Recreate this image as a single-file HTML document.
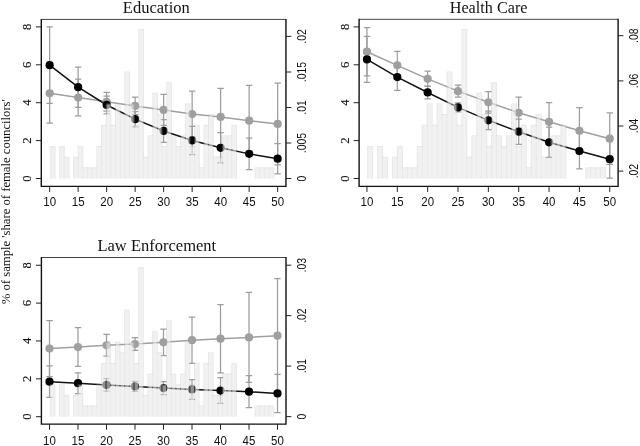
<!DOCTYPE html><html><head><meta charset="utf-8"><style>html,body{margin:0;padding:0;background:#fff}svg{display:block;filter:grayscale(1)}text{fill:#111}</style></head><body>
<svg width="640" height="446" viewBox="0 0 640 446">
<rect width="640" height="446" fill="#fff"/>
<g opacity="0.999">
<path d="M49.65 63.28V123.17M46.45 63.28h6.4M46.45 123.17h6.4" stroke="#9d9d9d" stroke-width="1.25" fill="none"/>
<path d="M78.15 79.20V115.97M74.95 79.20h6.4M74.95 115.97h6.4" stroke="#9d9d9d" stroke-width="1.25" fill="none"/>
<path d="M106.65 92.28V111.23M103.45 92.28h6.4M103.45 111.23h6.4" stroke="#9d9d9d" stroke-width="1.25" fill="none"/>
<path d="M135.15 97.20V114.64M131.95 97.20h6.4M131.95 114.64h6.4" stroke="#9d9d9d" stroke-width="1.25" fill="none"/>
<path d="M163.65 94.36V125.44M160.45 94.36h6.4M160.45 125.44h6.4" stroke="#9d9d9d" stroke-width="1.25" fill="none"/>
<path d="M192.15 91.14V137.00M188.95 91.14h6.4M188.95 137.00h6.4" stroke="#9d9d9d" stroke-width="1.25" fill="none"/>
<path d="M220.65 88.30V145.53M217.45 88.30h6.4M217.45 145.53h6.4" stroke="#9d9d9d" stroke-width="1.25" fill="none"/>
<path d="M249.15 85.27V156.14M245.95 85.27h6.4M245.95 156.14h6.4" stroke="#9d9d9d" stroke-width="1.25" fill="none"/>
<path d="M277.65 83.09V164.76M274.45 83.09h6.4M274.45 164.76h6.4" stroke="#9d9d9d" stroke-width="1.25" fill="none"/>
<path d="M49.65 26.90V103.46M46.45 26.90h6.4M46.45 103.46h6.4" stroke="#9d9d9d" stroke-width="1.25" fill="none"/>
<path d="M78.15 67.07V107.25M74.95 67.07h6.4M74.95 107.25h6.4" stroke="#9d9d9d" stroke-width="1.25" fill="none"/>
<path d="M106.65 96.07V113.88M103.45 96.07h6.4M103.45 113.88h6.4" stroke="#9d9d9d" stroke-width="1.25" fill="none"/>
<path d="M135.15 111.61V126.77M131.95 111.61h6.4M131.95 126.77h6.4" stroke="#9d9d9d" stroke-width="1.25" fill="none"/>
<path d="M163.65 119.57V142.31M160.45 119.57h6.4M160.45 142.31h6.4" stroke="#9d9d9d" stroke-width="1.25" fill="none"/>
<path d="M192.15 126.29V154.53M188.95 126.29h6.4M188.95 154.53h6.4" stroke="#9d9d9d" stroke-width="1.25" fill="none"/>
<path d="M220.65 132.64V162.96M217.45 132.64h6.4M217.45 162.96h6.4" stroke="#9d9d9d" stroke-width="1.25" fill="none"/>
<path d="M249.15 138.14V169.59M245.95 138.14h6.4M245.95 169.59h6.4" stroke="#9d9d9d" stroke-width="1.25" fill="none"/>
<path d="M277.65 143.54V173.86M274.45 143.54h6.4M274.45 173.86h6.4" stroke="#9d9d9d" stroke-width="1.25" fill="none"/>
<polyline points="49.65,93.23 78.15,97.58 106.65,101.75 135.15,105.92 163.65,109.90 192.15,114.07 220.65,116.91 249.15,120.70 277.65,123.92" stroke="#9f9f9f" stroke-width="1.5" fill="none"/>
<polyline points="49.65,65.18 78.15,87.16 106.65,104.97 135.15,119.19 163.65,130.94 192.15,140.41 220.65,147.80 249.15,153.87 277.65,158.70" stroke="#111" stroke-width="1.5" fill="none"/>
<circle cx="49.65" cy="93.23" r="4.1" fill="#9f9f9f"/>
<circle cx="78.15" cy="97.58" r="4.1" fill="#9f9f9f"/>
<circle cx="106.65" cy="101.75" r="4.1" fill="#9f9f9f"/>
<circle cx="135.15" cy="105.92" r="4.1" fill="#9f9f9f"/>
<circle cx="163.65" cy="109.90" r="4.1" fill="#9f9f9f"/>
<circle cx="192.15" cy="114.07" r="4.1" fill="#9f9f9f"/>
<circle cx="220.65" cy="116.91" r="4.1" fill="#9f9f9f"/>
<circle cx="249.15" cy="120.70" r="4.1" fill="#9f9f9f"/>
<circle cx="277.65" cy="123.92" r="4.1" fill="#9f9f9f"/>
<circle cx="49.65" cy="65.18" r="4.1" fill="#000"/>
<circle cx="78.15" cy="87.16" r="4.1" fill="#000"/>
<circle cx="106.65" cy="104.97" r="4.1" fill="#000"/>
<circle cx="135.15" cy="119.19" r="4.1" fill="#000"/>
<circle cx="163.65" cy="130.94" r="4.1" fill="#000"/>
<circle cx="192.15" cy="140.41" r="4.1" fill="#000"/>
<circle cx="220.65" cy="147.80" r="4.1" fill="#000"/>
<circle cx="249.15" cy="153.87" r="4.1" fill="#000"/>
<circle cx="277.65" cy="158.70" r="4.1" fill="#000"/>
<rect x="50.83" y="147.05" width="3.66" height="31.45" fill="rgba(233,233,233,0.62)"/>
<rect x="60.14" y="147.05" width="3.66" height="31.45" fill="rgba(233,233,233,0.62)"/>
<rect x="64.80" y="157.70" width="3.66" height="20.80" fill="rgba(233,233,233,0.62)"/>
<rect x="74.11" y="157.70" width="3.66" height="20.80" fill="rgba(233,233,233,0.62)"/>
<rect x="78.77" y="147.05" width="3.66" height="31.45" fill="rgba(233,233,233,0.62)"/>
<rect x="83.42" y="168.35" width="3.66" height="10.15" fill="rgba(233,233,233,0.62)"/>
<rect x="88.08" y="168.35" width="3.66" height="10.15" fill="rgba(233,233,233,0.62)"/>
<rect x="92.73" y="168.35" width="3.66" height="10.15" fill="rgba(233,233,233,0.62)"/>
<rect x="97.39" y="147.05" width="3.66" height="31.45" fill="rgba(233,233,233,0.62)"/>
<rect x="102.04" y="125.75" width="3.66" height="52.75" fill="rgba(233,233,233,0.62)"/>
<rect x="106.70" y="104.45" width="3.66" height="74.05" fill="rgba(233,233,233,0.62)"/>
<rect x="111.35" y="125.75" width="3.66" height="52.75" fill="rgba(233,233,233,0.62)"/>
<rect x="116.01" y="104.45" width="3.66" height="74.05" fill="rgba(233,233,233,0.62)"/>
<rect x="120.66" y="115.10" width="3.66" height="63.40" fill="rgba(233,233,233,0.62)"/>
<rect x="125.32" y="72.50" width="3.66" height="106.00" fill="rgba(233,233,233,0.62)"/>
<rect x="129.97" y="104.45" width="3.66" height="74.05" fill="rgba(233,233,233,0.62)"/>
<rect x="134.63" y="125.75" width="3.66" height="52.75" fill="rgba(233,233,233,0.62)"/>
<rect x="139.28" y="29.90" width="3.66" height="148.60" fill="rgba(233,233,233,0.62)"/>
<rect x="143.94" y="157.70" width="3.66" height="20.80" fill="rgba(233,233,233,0.62)"/>
<rect x="148.59" y="136.40" width="3.66" height="42.10" fill="rgba(233,233,233,0.62)"/>
<rect x="153.25" y="93.80" width="3.66" height="84.70" fill="rgba(233,233,233,0.62)"/>
<rect x="157.90" y="115.10" width="3.66" height="63.40" fill="rgba(233,233,233,0.62)"/>
<rect x="162.56" y="147.05" width="3.66" height="31.45" fill="rgba(233,233,233,0.62)"/>
<rect x="167.21" y="83.15" width="3.66" height="95.35" fill="rgba(233,233,233,0.62)"/>
<rect x="171.87" y="136.40" width="3.66" height="42.10" fill="rgba(233,233,233,0.62)"/>
<rect x="176.52" y="147.05" width="3.66" height="31.45" fill="rgba(233,233,233,0.62)"/>
<rect x="181.18" y="136.40" width="3.66" height="42.10" fill="rgba(233,233,233,0.62)"/>
<rect x="185.83" y="104.45" width="3.66" height="74.05" fill="rgba(233,233,233,0.62)"/>
<rect x="190.49" y="147.05" width="3.66" height="31.45" fill="rgba(233,233,233,0.62)"/>
<rect x="195.14" y="125.75" width="3.66" height="52.75" fill="rgba(233,233,233,0.62)"/>
<rect x="199.80" y="168.35" width="3.66" height="10.15" fill="rgba(233,233,233,0.62)"/>
<rect x="204.46" y="125.75" width="3.66" height="52.75" fill="rgba(233,233,233,0.62)"/>
<rect x="209.11" y="115.10" width="3.66" height="63.40" fill="rgba(233,233,233,0.62)"/>
<rect x="213.77" y="157.70" width="3.66" height="20.80" fill="rgba(233,233,233,0.62)"/>
<rect x="218.42" y="157.70" width="3.66" height="20.80" fill="rgba(233,233,233,0.62)"/>
<rect x="223.08" y="136.40" width="3.66" height="42.10" fill="rgba(233,233,233,0.62)"/>
<rect x="227.73" y="136.40" width="3.66" height="42.10" fill="rgba(233,233,233,0.62)"/>
<rect x="232.39" y="125.75" width="3.66" height="52.75" fill="rgba(233,233,233,0.62)"/>
<rect x="255.66" y="168.35" width="3.66" height="10.15" fill="rgba(233,233,233,0.62)"/>
<rect x="260.32" y="168.35" width="3.66" height="10.15" fill="rgba(233,233,233,0.62)"/>
<rect x="264.97" y="168.35" width="3.66" height="10.15" fill="rgba(233,233,233,0.62)"/>
<rect x="269.63" y="168.35" width="3.66" height="10.15" fill="rgba(233,233,233,0.62)"/>
<path d="M49.83 146.55h5.66M59.14 146.55h5.66M63.80 157.20h5.66M73.11 157.20h5.66M77.77 146.55h5.66M82.42 167.85h5.66M87.08 167.85h5.66M91.73 167.85h5.66M96.39 146.55h5.66M101.04 125.25h5.66M105.70 103.95h5.66M110.35 125.25h5.66M115.01 103.95h5.66M119.66 114.60h5.66M124.32 72.00h5.66M128.97 103.95h5.66M133.63 125.25h5.66M138.28 29.40h5.66M142.94 157.20h5.66M147.59 135.90h5.66M152.25 93.30h5.66M156.90 114.60h5.66M161.56 146.55h5.66M166.21 82.65h5.66M170.87 135.90h5.66M175.52 146.55h5.66M180.18 135.90h5.66M184.83 103.95h5.66M189.49 146.55h5.66M194.14 125.25h5.66M198.80 167.85h5.66M203.46 125.25h5.66M208.11 114.60h5.66M212.77 157.20h5.66M217.42 157.20h5.66M222.08 135.90h5.66M226.73 135.90h5.66M231.39 125.25h5.66M254.66 167.85h5.66M259.32 167.85h5.66M263.97 167.85h5.66M268.63 167.85h5.66M50.33 178.50v-31.45M54.99 178.50v-31.45M59.64 178.50v-31.45M64.30 178.50v-31.45M68.95 178.50v-20.80M73.61 178.50v-20.80M78.27 178.50v-31.45M82.92 178.50v-31.45M87.58 178.50v-10.15M92.23 178.50v-10.15M96.89 178.50v-31.45M101.54 178.50v-52.75M106.20 178.50v-74.05M110.85 178.50v-74.05M115.51 178.50v-74.05M120.16 178.50v-74.05M124.82 178.50v-106.00M129.47 178.50v-106.00M134.13 178.50v-74.05M138.78 178.50v-148.60M143.44 178.50v-148.60M148.09 178.50v-42.10M152.75 178.50v-84.70M157.40 178.50v-84.70M162.06 178.50v-63.40M166.71 178.50v-95.35M171.37 178.50v-95.35M176.02 178.50v-42.10M180.68 178.50v-42.10M185.33 178.50v-74.05M189.99 178.50v-74.05M194.64 178.50v-52.75M199.30 178.50v-52.75M203.96 178.50v-52.75M208.61 178.50v-63.40M213.27 178.50v-63.40M217.92 178.50v-20.80M222.58 178.50v-42.10M227.23 178.50v-42.10M231.89 178.50v-52.75M236.54 178.50v-52.75M255.16 178.50v-10.15M259.82 178.50v-10.15M264.47 178.50v-10.15M269.13 178.50v-10.15M273.78 178.50v-10.15" fill="none" stroke="rgba(185,185,185,0.32)" stroke-width="1.0"/>
<path d="M41.3 19.4H285.95" stroke="#444" stroke-width="1" fill="none"/>
<path d="M41.3 18.9V186.35H285.95V18.9" stroke="#111" stroke-width="1.4" fill="none"/>
<path d="M49.65 186.35v5.6" stroke="#222" stroke-width="1"/>
<text transform="translate(49.65 205.90) scale(0.92 1)" text-anchor="middle" font-family="Liberation Sans, sans-serif" font-size="12.5">10</text>
<path d="M78.15 186.35v5.6" stroke="#222" stroke-width="1"/>
<text transform="translate(78.15 205.90) scale(0.92 1)" text-anchor="middle" font-family="Liberation Sans, sans-serif" font-size="12.5">15</text>
<path d="M106.65 186.35v5.6" stroke="#222" stroke-width="1"/>
<text transform="translate(106.65 205.90) scale(0.92 1)" text-anchor="middle" font-family="Liberation Sans, sans-serif" font-size="12.5">20</text>
<path d="M135.15 186.35v5.6" stroke="#222" stroke-width="1"/>
<text transform="translate(135.15 205.90) scale(0.92 1)" text-anchor="middle" font-family="Liberation Sans, sans-serif" font-size="12.5">25</text>
<path d="M163.65 186.35v5.6" stroke="#222" stroke-width="1"/>
<text transform="translate(163.65 205.90) scale(0.92 1)" text-anchor="middle" font-family="Liberation Sans, sans-serif" font-size="12.5">30</text>
<path d="M192.15 186.35v5.6" stroke="#222" stroke-width="1"/>
<text transform="translate(192.15 205.90) scale(0.92 1)" text-anchor="middle" font-family="Liberation Sans, sans-serif" font-size="12.5">35</text>
<path d="M220.65 186.35v5.6" stroke="#222" stroke-width="1"/>
<text transform="translate(220.65 205.90) scale(0.92 1)" text-anchor="middle" font-family="Liberation Sans, sans-serif" font-size="12.5">40</text>
<path d="M249.15 186.35v5.6" stroke="#222" stroke-width="1"/>
<text transform="translate(249.15 205.90) scale(0.92 1)" text-anchor="middle" font-family="Liberation Sans, sans-serif" font-size="12.5">45</text>
<path d="M277.65 186.35v5.6" stroke="#222" stroke-width="1"/>
<text transform="translate(277.65 205.90) scale(0.92 1)" text-anchor="middle" font-family="Liberation Sans, sans-serif" font-size="12.5">50</text>
<path d="M41.3 178.50h-5.4" stroke="#222" stroke-width="1"/>
<text transform="translate(30.90 178.50) rotate(-90)" text-anchor="middle" font-family="Liberation Serif, serif" font-size="12.6" stroke="#111" stroke-width="0.12">0</text>
<path d="M41.3 140.60h-5.4" stroke="#222" stroke-width="1"/>
<text transform="translate(30.90 140.60) rotate(-90)" text-anchor="middle" font-family="Liberation Serif, serif" font-size="12.6" stroke="#111" stroke-width="0.12">2</text>
<path d="M41.3 102.70h-5.4" stroke="#222" stroke-width="1"/>
<text transform="translate(30.90 102.70) rotate(-90)" text-anchor="middle" font-family="Liberation Serif, serif" font-size="12.6" stroke="#111" stroke-width="0.12">4</text>
<path d="M41.3 64.80h-5.4" stroke="#222" stroke-width="1"/>
<text transform="translate(30.90 64.80) rotate(-90)" text-anchor="middle" font-family="Liberation Serif, serif" font-size="12.6" stroke="#111" stroke-width="0.12">6</text>
<path d="M41.3 26.90h-5.4" stroke="#222" stroke-width="1"/>
<text transform="translate(30.90 26.90) rotate(-90)" text-anchor="middle" font-family="Liberation Serif, serif" font-size="12.6" stroke="#111" stroke-width="0.12">8</text>
<path d="M285.95 178.50h5.3" stroke="#222" stroke-width="1"/>
<text transform="translate(305.55 178.50) rotate(-90) scale(0.87 1)" text-anchor="middle" font-family="Liberation Sans, sans-serif" font-size="12">0</text>
<path d="M285.95 143.00h5.3" stroke="#222" stroke-width="1"/>
<text transform="translate(305.55 143.00) rotate(-90) scale(0.87 1)" text-anchor="middle" font-family="Liberation Sans, sans-serif" font-size="12">.005</text>
<path d="M285.95 107.50h5.3" stroke="#222" stroke-width="1"/>
<text transform="translate(305.55 107.50) rotate(-90) scale(0.87 1)" text-anchor="middle" font-family="Liberation Sans, sans-serif" font-size="12">.01</text>
<path d="M285.95 72.00h5.3" stroke="#222" stroke-width="1"/>
<text transform="translate(305.55 72.00) rotate(-90) scale(0.87 1)" text-anchor="middle" font-family="Liberation Sans, sans-serif" font-size="12">.015</text>
<path d="M285.95 36.40h5.3" stroke="#222" stroke-width="1"/>
<text transform="translate(305.55 36.40) rotate(-90) scale(0.87 1)" text-anchor="middle" font-family="Liberation Sans, sans-serif" font-size="12">.02</text>
<text x="156.3" y="13.2" text-anchor="middle" font-family="Liberation Serif, serif" font-size="16.5">Education</text>
</g>
<g opacity="0.999">
<path d="M366.95 27.66V75.79M363.75 27.66h6.4M363.75 75.79h6.4" stroke="#9d9d9d" stroke-width="1.25" fill="none"/>
<path d="M397.30 51.35V79.39M394.10 51.35h6.4M394.10 79.39h6.4" stroke="#9d9d9d" stroke-width="1.25" fill="none"/>
<path d="M427.65 71.24V86.40M424.45 71.24h6.4M424.45 86.40h6.4" stroke="#9d9d9d" stroke-width="1.25" fill="none"/>
<path d="M458.00 85.08V97.20M454.80 85.08h6.4M454.80 97.20h6.4" stroke="#9d9d9d" stroke-width="1.25" fill="none"/>
<path d="M488.35 91.52V113.12M485.15 91.52h6.4M485.15 113.12h6.4" stroke="#9d9d9d" stroke-width="1.25" fill="none"/>
<path d="M518.70 97.02V128.47M515.50 97.02h6.4M515.50 128.47h6.4" stroke="#9d9d9d" stroke-width="1.25" fill="none"/>
<path d="M549.05 102.70V140.98M545.85 102.70h6.4M545.85 140.98h6.4" stroke="#9d9d9d" stroke-width="1.25" fill="none"/>
<path d="M579.40 107.63V153.87M576.20 107.63h6.4M576.20 153.87h6.4" stroke="#9d9d9d" stroke-width="1.25" fill="none"/>
<path d="M609.75 112.93V164.48M606.55 112.93h6.4M606.55 164.48h6.4" stroke="#9d9d9d" stroke-width="1.25" fill="none"/>
<path d="M366.95 36.47V82.33M363.75 36.47h6.4M363.75 82.33h6.4" stroke="#9d9d9d" stroke-width="1.25" fill="none"/>
<path d="M397.30 63.85V90.38M394.10 63.85h6.4M394.10 90.38h6.4" stroke="#9d9d9d" stroke-width="1.25" fill="none"/>
<path d="M427.65 86.02V98.91M424.45 86.02h6.4M424.45 98.91h6.4" stroke="#9d9d9d" stroke-width="1.25" fill="none"/>
<path d="M458.00 102.89V111.99M454.80 102.89h6.4M454.80 111.99h6.4" stroke="#9d9d9d" stroke-width="1.25" fill="none"/>
<path d="M488.35 111.04V129.61M485.15 111.04h6.4M485.15 129.61h6.4" stroke="#9d9d9d" stroke-width="1.25" fill="none"/>
<path d="M518.70 119.00V144.39M515.50 119.00h6.4M515.50 144.39h6.4" stroke="#9d9d9d" stroke-width="1.25" fill="none"/>
<path d="M549.05 127.15V157.47M545.85 127.15h6.4M545.85 157.47h6.4" stroke="#9d9d9d" stroke-width="1.25" fill="none"/>
<path d="M579.40 133.21V168.84M576.20 133.21h6.4M576.20 168.84h6.4" stroke="#9d9d9d" stroke-width="1.25" fill="none"/>
<path d="M609.75 140.22V178.12M606.55 140.22h6.4M606.55 178.12h6.4" stroke="#9d9d9d" stroke-width="1.25" fill="none"/>
<polyline points="366.95,51.72 397.30,65.37 427.65,78.82 458.00,91.14 488.35,102.32 518.70,112.74 549.05,121.84 579.40,130.75 609.75,138.70" stroke="#9f9f9f" stroke-width="1.5" fill="none"/>
<polyline points="366.95,59.40 397.30,77.12 427.65,92.47 458.00,107.44 488.35,120.32 518.70,131.69 549.05,142.31 579.40,151.02 609.75,159.17" stroke="#111" stroke-width="1.5" fill="none"/>
<circle cx="366.95" cy="51.72" r="4.1" fill="#9f9f9f"/>
<circle cx="397.30" cy="65.37" r="4.1" fill="#9f9f9f"/>
<circle cx="427.65" cy="78.82" r="4.1" fill="#9f9f9f"/>
<circle cx="458.00" cy="91.14" r="4.1" fill="#9f9f9f"/>
<circle cx="488.35" cy="102.32" r="4.1" fill="#9f9f9f"/>
<circle cx="518.70" cy="112.74" r="4.1" fill="#9f9f9f"/>
<circle cx="549.05" cy="121.84" r="4.1" fill="#9f9f9f"/>
<circle cx="579.40" cy="130.75" r="4.1" fill="#9f9f9f"/>
<circle cx="609.75" cy="138.70" r="4.1" fill="#9f9f9f"/>
<circle cx="366.95" cy="59.40" r="4.1" fill="#000"/>
<circle cx="397.30" cy="77.12" r="4.1" fill="#000"/>
<circle cx="427.65" cy="92.47" r="4.1" fill="#000"/>
<circle cx="458.00" cy="107.44" r="4.1" fill="#000"/>
<circle cx="488.35" cy="120.32" r="4.1" fill="#000"/>
<circle cx="518.70" cy="131.69" r="4.1" fill="#000"/>
<circle cx="549.05" cy="142.31" r="4.1" fill="#000"/>
<circle cx="579.40" cy="151.02" r="4.1" fill="#000"/>
<circle cx="609.75" cy="159.17" r="4.1" fill="#000"/>
<rect x="368.18" y="147.05" width="3.96" height="31.45" fill="rgba(233,233,233,0.62)"/>
<rect x="378.09" y="147.05" width="3.96" height="31.45" fill="rgba(233,233,233,0.62)"/>
<rect x="383.05" y="157.70" width="3.96" height="20.80" fill="rgba(233,233,233,0.62)"/>
<rect x="392.97" y="157.70" width="3.96" height="20.80" fill="rgba(233,233,233,0.62)"/>
<rect x="397.92" y="147.05" width="3.96" height="31.45" fill="rgba(233,233,233,0.62)"/>
<rect x="402.88" y="168.35" width="3.96" height="10.15" fill="rgba(233,233,233,0.62)"/>
<rect x="407.84" y="168.35" width="3.96" height="10.15" fill="rgba(233,233,233,0.62)"/>
<rect x="412.79" y="168.35" width="3.96" height="10.15" fill="rgba(233,233,233,0.62)"/>
<rect x="417.75" y="147.05" width="3.96" height="31.45" fill="rgba(233,233,233,0.62)"/>
<rect x="422.71" y="125.75" width="3.96" height="52.75" fill="rgba(233,233,233,0.62)"/>
<rect x="427.67" y="104.45" width="3.96" height="74.05" fill="rgba(233,233,233,0.62)"/>
<rect x="432.62" y="125.75" width="3.96" height="52.75" fill="rgba(233,233,233,0.62)"/>
<rect x="437.58" y="104.45" width="3.96" height="74.05" fill="rgba(233,233,233,0.62)"/>
<rect x="442.54" y="115.10" width="3.96" height="63.40" fill="rgba(233,233,233,0.62)"/>
<rect x="447.50" y="72.50" width="3.96" height="106.00" fill="rgba(233,233,233,0.62)"/>
<rect x="452.45" y="104.45" width="3.96" height="74.05" fill="rgba(233,233,233,0.62)"/>
<rect x="457.41" y="125.75" width="3.96" height="52.75" fill="rgba(233,233,233,0.62)"/>
<rect x="462.37" y="29.90" width="3.96" height="148.60" fill="rgba(233,233,233,0.62)"/>
<rect x="467.33" y="157.70" width="3.96" height="20.80" fill="rgba(233,233,233,0.62)"/>
<rect x="472.28" y="136.40" width="3.96" height="42.10" fill="rgba(233,233,233,0.62)"/>
<rect x="477.24" y="93.80" width="3.96" height="84.70" fill="rgba(233,233,233,0.62)"/>
<rect x="482.20" y="115.10" width="3.96" height="63.40" fill="rgba(233,233,233,0.62)"/>
<rect x="487.16" y="147.05" width="3.96" height="31.45" fill="rgba(233,233,233,0.62)"/>
<rect x="492.11" y="83.15" width="3.96" height="95.35" fill="rgba(233,233,233,0.62)"/>
<rect x="497.07" y="136.40" width="3.96" height="42.10" fill="rgba(233,233,233,0.62)"/>
<rect x="502.03" y="147.05" width="3.96" height="31.45" fill="rgba(233,233,233,0.62)"/>
<rect x="506.98" y="136.40" width="3.96" height="42.10" fill="rgba(233,233,233,0.62)"/>
<rect x="511.94" y="104.45" width="3.96" height="74.05" fill="rgba(233,233,233,0.62)"/>
<rect x="516.90" y="147.05" width="3.96" height="31.45" fill="rgba(233,233,233,0.62)"/>
<rect x="521.86" y="125.75" width="3.96" height="52.75" fill="rgba(233,233,233,0.62)"/>
<rect x="526.81" y="168.35" width="3.96" height="10.15" fill="rgba(233,233,233,0.62)"/>
<rect x="531.77" y="125.75" width="3.96" height="52.75" fill="rgba(233,233,233,0.62)"/>
<rect x="536.73" y="115.10" width="3.96" height="63.40" fill="rgba(233,233,233,0.62)"/>
<rect x="541.69" y="157.70" width="3.96" height="20.80" fill="rgba(233,233,233,0.62)"/>
<rect x="546.64" y="157.70" width="3.96" height="20.80" fill="rgba(233,233,233,0.62)"/>
<rect x="551.60" y="136.40" width="3.96" height="42.10" fill="rgba(233,233,233,0.62)"/>
<rect x="556.56" y="136.40" width="3.96" height="42.10" fill="rgba(233,233,233,0.62)"/>
<rect x="561.52" y="125.75" width="3.96" height="52.75" fill="rgba(233,233,233,0.62)"/>
<rect x="586.30" y="168.35" width="3.96" height="10.15" fill="rgba(233,233,233,0.62)"/>
<rect x="591.26" y="168.35" width="3.96" height="10.15" fill="rgba(233,233,233,0.62)"/>
<rect x="596.22" y="168.35" width="3.96" height="10.15" fill="rgba(233,233,233,0.62)"/>
<rect x="601.17" y="168.35" width="3.96" height="10.15" fill="rgba(233,233,233,0.62)"/>
<path d="M367.18 146.55h5.96M377.09 146.55h5.96M382.05 157.20h5.96M391.97 157.20h5.96M396.92 146.55h5.96M401.88 167.85h5.96M406.84 167.85h5.96M411.79 167.85h5.96M416.75 146.55h5.96M421.71 125.25h5.96M426.67 103.95h5.96M431.62 125.25h5.96M436.58 103.95h5.96M441.54 114.60h5.96M446.50 72.00h5.96M451.45 103.95h5.96M456.41 125.25h5.96M461.37 29.40h5.96M466.33 157.20h5.96M471.28 135.90h5.96M476.24 93.30h5.96M481.20 114.60h5.96M486.16 146.55h5.96M491.11 82.65h5.96M496.07 135.90h5.96M501.03 146.55h5.96M505.98 135.90h5.96M510.94 103.95h5.96M515.90 146.55h5.96M520.86 125.25h5.96M525.81 167.85h5.96M530.77 125.25h5.96M535.73 114.60h5.96M540.69 157.20h5.96M545.64 157.20h5.96M550.60 135.90h5.96M555.56 135.90h5.96M560.52 125.25h5.96M585.30 167.85h5.96M590.26 167.85h5.96M595.22 167.85h5.96M600.17 167.85h5.96M367.68 178.50v-31.45M372.64 178.50v-31.45M377.59 178.50v-31.45M382.55 178.50v-31.45M387.51 178.50v-20.80M392.47 178.50v-20.80M397.42 178.50v-31.45M402.38 178.50v-31.45M407.34 178.50v-10.15M412.29 178.50v-10.15M417.25 178.50v-31.45M422.21 178.50v-52.75M427.17 178.50v-74.05M432.12 178.50v-74.05M437.08 178.50v-74.05M442.04 178.50v-74.05M447.00 178.50v-106.00M451.95 178.50v-106.00M456.91 178.50v-74.05M461.87 178.50v-148.60M466.83 178.50v-148.60M471.78 178.50v-42.10M476.74 178.50v-84.70M481.70 178.50v-84.70M486.66 178.50v-63.40M491.61 178.50v-95.35M496.57 178.50v-95.35M501.53 178.50v-42.10M506.48 178.50v-42.10M511.44 178.50v-74.05M516.40 178.50v-74.05M521.36 178.50v-52.75M526.31 178.50v-52.75M531.27 178.50v-52.75M536.23 178.50v-63.40M541.19 178.50v-63.40M546.14 178.50v-20.80M551.10 178.50v-42.10M556.06 178.50v-42.10M561.02 178.50v-52.75M565.97 178.50v-52.75M585.80 178.50v-10.15M590.76 178.50v-10.15M595.72 178.50v-10.15M600.67 178.50v-10.15M605.63 178.50v-10.15" fill="none" stroke="rgba(185,185,185,0.32)" stroke-width="1.0"/>
<path d="M359.1 19.3H618.1" stroke="#444" stroke-width="1" fill="none"/>
<path d="M359.1 18.8V186.35H618.1V18.8" stroke="#111" stroke-width="1.4" fill="none"/>
<path d="M366.95 186.35v5.6" stroke="#222" stroke-width="1"/>
<text transform="translate(366.95 205.90) scale(0.92 1)" text-anchor="middle" font-family="Liberation Sans, sans-serif" font-size="12.5">10</text>
<path d="M397.30 186.35v5.6" stroke="#222" stroke-width="1"/>
<text transform="translate(397.30 205.90) scale(0.92 1)" text-anchor="middle" font-family="Liberation Sans, sans-serif" font-size="12.5">15</text>
<path d="M427.65 186.35v5.6" stroke="#222" stroke-width="1"/>
<text transform="translate(427.65 205.90) scale(0.92 1)" text-anchor="middle" font-family="Liberation Sans, sans-serif" font-size="12.5">20</text>
<path d="M458.00 186.35v5.6" stroke="#222" stroke-width="1"/>
<text transform="translate(458.00 205.90) scale(0.92 1)" text-anchor="middle" font-family="Liberation Sans, sans-serif" font-size="12.5">25</text>
<path d="M488.35 186.35v5.6" stroke="#222" stroke-width="1"/>
<text transform="translate(488.35 205.90) scale(0.92 1)" text-anchor="middle" font-family="Liberation Sans, sans-serif" font-size="12.5">30</text>
<path d="M518.70 186.35v5.6" stroke="#222" stroke-width="1"/>
<text transform="translate(518.70 205.90) scale(0.92 1)" text-anchor="middle" font-family="Liberation Sans, sans-serif" font-size="12.5">35</text>
<path d="M549.05 186.35v5.6" stroke="#222" stroke-width="1"/>
<text transform="translate(549.05 205.90) scale(0.92 1)" text-anchor="middle" font-family="Liberation Sans, sans-serif" font-size="12.5">40</text>
<path d="M579.40 186.35v5.6" stroke="#222" stroke-width="1"/>
<text transform="translate(579.40 205.90) scale(0.92 1)" text-anchor="middle" font-family="Liberation Sans, sans-serif" font-size="12.5">45</text>
<path d="M609.75 186.35v5.6" stroke="#222" stroke-width="1"/>
<text transform="translate(609.75 205.90) scale(0.92 1)" text-anchor="middle" font-family="Liberation Sans, sans-serif" font-size="12.5">50</text>
<path d="M359.1 178.50h-5.4" stroke="#222" stroke-width="1"/>
<text transform="translate(348.70 178.50) rotate(-90)" text-anchor="middle" font-family="Liberation Serif, serif" font-size="12.6" stroke="#111" stroke-width="0.12">0</text>
<path d="M359.1 140.60h-5.4" stroke="#222" stroke-width="1"/>
<text transform="translate(348.70 140.60) rotate(-90)" text-anchor="middle" font-family="Liberation Serif, serif" font-size="12.6" stroke="#111" stroke-width="0.12">2</text>
<path d="M359.1 102.70h-5.4" stroke="#222" stroke-width="1"/>
<text transform="translate(348.70 102.70) rotate(-90)" text-anchor="middle" font-family="Liberation Serif, serif" font-size="12.6" stroke="#111" stroke-width="0.12">4</text>
<path d="M359.1 64.80h-5.4" stroke="#222" stroke-width="1"/>
<text transform="translate(348.70 64.80) rotate(-90)" text-anchor="middle" font-family="Liberation Serif, serif" font-size="12.6" stroke="#111" stroke-width="0.12">6</text>
<path d="M359.1 26.90h-5.4" stroke="#222" stroke-width="1"/>
<text transform="translate(348.70 26.90) rotate(-90)" text-anchor="middle" font-family="Liberation Serif, serif" font-size="12.6" stroke="#111" stroke-width="0.12">8</text>
<path d="M618.1 171.10h5.3" stroke="#222" stroke-width="1"/>
<text transform="translate(637.70 171.10) rotate(-90) scale(0.87 1)" text-anchor="middle" font-family="Liberation Sans, sans-serif" font-size="12">.02</text>
<path d="M618.1 126.00h5.3" stroke="#222" stroke-width="1"/>
<text transform="translate(637.70 126.00) rotate(-90) scale(0.87 1)" text-anchor="middle" font-family="Liberation Sans, sans-serif" font-size="12">.04</text>
<path d="M618.1 80.90h5.3" stroke="#222" stroke-width="1"/>
<text transform="translate(637.70 80.90) rotate(-90) scale(0.87 1)" text-anchor="middle" font-family="Liberation Sans, sans-serif" font-size="12">.06</text>
<path d="M618.1 35.70h5.3" stroke="#222" stroke-width="1"/>
<text transform="translate(637.70 35.70) rotate(-90) scale(0.87 1)" text-anchor="middle" font-family="Liberation Sans, sans-serif" font-size="12">.08</text>
<text x="488.6" y="13.2" text-anchor="middle" font-family="Liberation Serif, serif" font-size="16.5" textLength="77.8" lengthAdjust="spacingAndGlyphs">Health Care</text>
</g>
<g opacity="0.999">
<path d="M49.50 320.54V376.57M46.30 320.54h6.4M46.30 376.57h6.4" stroke="#9d9d9d" stroke-width="1.25" fill="none"/>
<path d="M78.00 327.73V366.35M74.80 327.73h6.4M74.80 366.35h6.4" stroke="#9d9d9d" stroke-width="1.25" fill="none"/>
<path d="M106.50 334.45V356.22M103.30 334.45h6.4M103.30 356.22h6.4" stroke="#9d9d9d" stroke-width="1.25" fill="none"/>
<path d="M135.00 337.57V350.44M131.80 337.57h6.4M131.80 350.44h6.4" stroke="#9d9d9d" stroke-width="1.25" fill="none"/>
<path d="M163.50 329.05V355.56M160.30 329.05h6.4M160.30 355.56h6.4" stroke="#9d9d9d" stroke-width="1.25" fill="none"/>
<path d="M192.00 317.13V363.32M188.80 317.13h6.4M188.80 363.32h6.4" stroke="#9d9d9d" stroke-width="1.25" fill="none"/>
<path d="M220.50 304.63V372.78M217.30 304.63h6.4M217.30 372.78h6.4" stroke="#9d9d9d" stroke-width="1.25" fill="none"/>
<path d="M249.00 292.33V382.44M245.80 292.33h6.4M245.80 382.44h6.4" stroke="#9d9d9d" stroke-width="1.25" fill="none"/>
<path d="M277.50 278.51V392.85M274.30 278.51h6.4M274.30 392.85h6.4" stroke="#9d9d9d" stroke-width="1.25" fill="none"/>
<path d="M49.50 365.97V397.39M46.30 365.97h6.4M46.30 397.39h6.4" stroke="#9d9d9d" stroke-width="1.25" fill="none"/>
<path d="M78.00 372.78V393.61M74.80 372.78h6.4M74.80 393.61h6.4" stroke="#9d9d9d" stroke-width="1.25" fill="none"/>
<path d="M106.50 378.65V391.14M103.30 378.65h6.4M103.30 391.14h6.4" stroke="#9d9d9d" stroke-width="1.25" fill="none"/>
<path d="M135.00 381.49V391.33M131.80 381.49h6.4M131.80 391.33h6.4" stroke="#9d9d9d" stroke-width="1.25" fill="none"/>
<path d="M163.50 381.58V394.65M160.30 381.58h6.4M160.30 394.65h6.4" stroke="#9d9d9d" stroke-width="1.25" fill="none"/>
<path d="M192.00 379.60V399.28M188.80 379.60h6.4M188.80 399.28h6.4" stroke="#9d9d9d" stroke-width="1.25" fill="none"/>
<path d="M220.50 377.70V403.45M217.30 377.70h6.4M217.30 403.45h6.4" stroke="#9d9d9d" stroke-width="1.25" fill="none"/>
<path d="M249.00 375.72V407.71M245.80 375.72h6.4M245.80 407.71h6.4" stroke="#9d9d9d" stroke-width="1.25" fill="none"/>
<path d="M277.50 374.30V412.54M274.30 374.30h6.4M274.30 412.54h6.4" stroke="#9d9d9d" stroke-width="1.25" fill="none"/>
<polyline points="49.50,348.55 78.00,347.04 106.50,345.33 135.00,344.01 163.50,342.31 192.00,340.22 220.50,338.71 249.00,337.38 277.50,335.68" stroke="#9f9f9f" stroke-width="1.5" fill="none"/>
<polyline points="49.50,381.68 78.00,383.19 106.50,384.90 135.00,386.41 163.50,388.12 192.00,389.44 220.50,390.58 249.00,391.71 277.50,393.42" stroke="#111" stroke-width="1.5" fill="none"/>
<circle cx="49.50" cy="348.55" r="4.1" fill="#9f9f9f"/>
<circle cx="78.00" cy="347.04" r="4.1" fill="#9f9f9f"/>
<circle cx="106.50" cy="345.33" r="4.1" fill="#9f9f9f"/>
<circle cx="135.00" cy="344.01" r="4.1" fill="#9f9f9f"/>
<circle cx="163.50" cy="342.31" r="4.1" fill="#9f9f9f"/>
<circle cx="192.00" cy="340.22" r="4.1" fill="#9f9f9f"/>
<circle cx="220.50" cy="338.71" r="4.1" fill="#9f9f9f"/>
<circle cx="249.00" cy="337.38" r="4.1" fill="#9f9f9f"/>
<circle cx="277.50" cy="335.68" r="4.1" fill="#9f9f9f"/>
<circle cx="49.50" cy="381.68" r="4.1" fill="#000"/>
<circle cx="78.00" cy="383.19" r="4.1" fill="#000"/>
<circle cx="106.50" cy="384.90" r="4.1" fill="#000"/>
<circle cx="135.00" cy="386.41" r="4.1" fill="#000"/>
<circle cx="163.50" cy="388.12" r="4.1" fill="#000"/>
<circle cx="192.00" cy="389.44" r="4.1" fill="#000"/>
<circle cx="220.50" cy="390.58" r="4.1" fill="#000"/>
<circle cx="249.00" cy="391.71" r="4.1" fill="#000"/>
<circle cx="277.50" cy="393.42" r="4.1" fill="#000"/>
<rect x="50.68" y="385.25" width="3.66" height="31.45" fill="rgba(233,233,233,0.62)"/>
<rect x="59.99" y="385.25" width="3.66" height="31.45" fill="rgba(233,233,233,0.62)"/>
<rect x="64.65" y="395.90" width="3.66" height="20.80" fill="rgba(233,233,233,0.62)"/>
<rect x="73.96" y="395.90" width="3.66" height="20.80" fill="rgba(233,233,233,0.62)"/>
<rect x="78.62" y="385.25" width="3.66" height="31.45" fill="rgba(233,233,233,0.62)"/>
<rect x="83.27" y="406.55" width="3.66" height="10.15" fill="rgba(233,233,233,0.62)"/>
<rect x="87.93" y="406.55" width="3.66" height="10.15" fill="rgba(233,233,233,0.62)"/>
<rect x="92.58" y="406.55" width="3.66" height="10.15" fill="rgba(233,233,233,0.62)"/>
<rect x="97.24" y="385.25" width="3.66" height="31.45" fill="rgba(233,233,233,0.62)"/>
<rect x="101.89" y="363.95" width="3.66" height="52.75" fill="rgba(233,233,233,0.62)"/>
<rect x="106.55" y="342.65" width="3.66" height="74.05" fill="rgba(233,233,233,0.62)"/>
<rect x="111.20" y="363.95" width="3.66" height="52.75" fill="rgba(233,233,233,0.62)"/>
<rect x="115.86" y="342.65" width="3.66" height="74.05" fill="rgba(233,233,233,0.62)"/>
<rect x="120.51" y="353.30" width="3.66" height="63.40" fill="rgba(233,233,233,0.62)"/>
<rect x="125.17" y="310.70" width="3.66" height="106.00" fill="rgba(233,233,233,0.62)"/>
<rect x="129.82" y="342.65" width="3.66" height="74.05" fill="rgba(233,233,233,0.62)"/>
<rect x="134.48" y="363.95" width="3.66" height="52.75" fill="rgba(233,233,233,0.62)"/>
<rect x="139.13" y="268.10" width="3.66" height="148.60" fill="rgba(233,233,233,0.62)"/>
<rect x="143.79" y="395.90" width="3.66" height="20.80" fill="rgba(233,233,233,0.62)"/>
<rect x="148.44" y="374.60" width="3.66" height="42.10" fill="rgba(233,233,233,0.62)"/>
<rect x="153.10" y="332.00" width="3.66" height="84.70" fill="rgba(233,233,233,0.62)"/>
<rect x="157.75" y="353.30" width="3.66" height="63.40" fill="rgba(233,233,233,0.62)"/>
<rect x="162.41" y="385.25" width="3.66" height="31.45" fill="rgba(233,233,233,0.62)"/>
<rect x="167.06" y="321.35" width="3.66" height="95.35" fill="rgba(233,233,233,0.62)"/>
<rect x="171.72" y="374.60" width="3.66" height="42.10" fill="rgba(233,233,233,0.62)"/>
<rect x="176.37" y="385.25" width="3.66" height="31.45" fill="rgba(233,233,233,0.62)"/>
<rect x="181.03" y="374.60" width="3.66" height="42.10" fill="rgba(233,233,233,0.62)"/>
<rect x="185.68" y="342.65" width="3.66" height="74.05" fill="rgba(233,233,233,0.62)"/>
<rect x="190.34" y="385.25" width="3.66" height="31.45" fill="rgba(233,233,233,0.62)"/>
<rect x="194.99" y="363.95" width="3.66" height="52.75" fill="rgba(233,233,233,0.62)"/>
<rect x="199.65" y="406.55" width="3.66" height="10.15" fill="rgba(233,233,233,0.62)"/>
<rect x="204.31" y="363.95" width="3.66" height="52.75" fill="rgba(233,233,233,0.62)"/>
<rect x="208.96" y="353.30" width="3.66" height="63.40" fill="rgba(233,233,233,0.62)"/>
<rect x="213.62" y="395.90" width="3.66" height="20.80" fill="rgba(233,233,233,0.62)"/>
<rect x="218.27" y="395.90" width="3.66" height="20.80" fill="rgba(233,233,233,0.62)"/>
<rect x="222.93" y="374.60" width="3.66" height="42.10" fill="rgba(233,233,233,0.62)"/>
<rect x="227.58" y="374.60" width="3.66" height="42.10" fill="rgba(233,233,233,0.62)"/>
<rect x="232.24" y="363.95" width="3.66" height="52.75" fill="rgba(233,233,233,0.62)"/>
<rect x="255.51" y="406.55" width="3.66" height="10.15" fill="rgba(233,233,233,0.62)"/>
<rect x="260.17" y="406.55" width="3.66" height="10.15" fill="rgba(233,233,233,0.62)"/>
<rect x="264.82" y="406.55" width="3.66" height="10.15" fill="rgba(233,233,233,0.62)"/>
<rect x="269.48" y="406.55" width="3.66" height="10.15" fill="rgba(233,233,233,0.62)"/>
<path d="M49.68 384.75h5.66M58.99 384.75h5.66M63.65 395.40h5.66M72.96 395.40h5.66M77.62 384.75h5.66M82.27 406.05h5.66M86.93 406.05h5.66M91.58 406.05h5.66M96.24 384.75h5.66M100.89 363.45h5.66M105.55 342.15h5.66M110.20 363.45h5.66M114.86 342.15h5.66M119.51 352.80h5.66M124.17 310.20h5.66M128.82 342.15h5.66M133.48 363.45h5.66M138.13 267.60h5.66M142.79 395.40h5.66M147.44 374.10h5.66M152.10 331.50h5.66M156.75 352.80h5.66M161.41 384.75h5.66M166.06 320.85h5.66M170.72 374.10h5.66M175.37 384.75h5.66M180.03 374.10h5.66M184.68 342.15h5.66M189.34 384.75h5.66M193.99 363.45h5.66M198.65 406.05h5.66M203.31 363.45h5.66M207.96 352.80h5.66M212.62 395.40h5.66M217.27 395.40h5.66M221.93 374.10h5.66M226.58 374.10h5.66M231.24 363.45h5.66M254.51 406.05h5.66M259.17 406.05h5.66M263.82 406.05h5.66M268.48 406.05h5.66M50.18 416.70v-31.45M54.84 416.70v-31.45M59.49 416.70v-31.45M64.15 416.70v-31.45M68.80 416.70v-20.80M73.46 416.70v-20.80M78.12 416.70v-31.45M82.77 416.70v-31.45M87.43 416.70v-10.15M92.08 416.70v-10.15M96.74 416.70v-31.45M101.39 416.70v-52.75M106.05 416.70v-74.05M110.70 416.70v-74.05M115.36 416.70v-74.05M120.01 416.70v-74.05M124.67 416.70v-106.00M129.32 416.70v-106.00M133.98 416.70v-74.05M138.63 416.70v-148.60M143.29 416.70v-148.60M147.94 416.70v-42.10M152.60 416.70v-84.70M157.25 416.70v-84.70M161.91 416.70v-63.40M166.56 416.70v-95.35M171.22 416.70v-95.35M175.87 416.70v-42.10M180.53 416.70v-42.10M185.18 416.70v-74.05M189.84 416.70v-74.05M194.49 416.70v-52.75M199.15 416.70v-52.75M203.81 416.70v-52.75M208.46 416.70v-63.40M213.12 416.70v-63.40M217.77 416.70v-20.80M222.43 416.70v-42.10M227.08 416.70v-42.10M231.74 416.70v-52.75M236.39 416.70v-52.75M255.01 416.70v-10.15M259.67 416.70v-10.15M264.32 416.70v-10.15M268.98 416.70v-10.15M273.63 416.70v-10.15" fill="none" stroke="rgba(185,185,185,0.32)" stroke-width="1.0"/>
<path d="M41.4 257.5H286.0" stroke="#444" stroke-width="1" fill="none"/>
<path d="M41.4 257.0V424.1H286.0V257.0" stroke="#111" stroke-width="1.4" fill="none"/>
<path d="M49.50 424.1v5.6" stroke="#222" stroke-width="1"/>
<text transform="translate(49.50 444.50) scale(0.92 1)" text-anchor="middle" font-family="Liberation Sans, sans-serif" font-size="12.5">10</text>
<path d="M78.00 424.1v5.6" stroke="#222" stroke-width="1"/>
<text transform="translate(78.00 444.50) scale(0.92 1)" text-anchor="middle" font-family="Liberation Sans, sans-serif" font-size="12.5">15</text>
<path d="M106.50 424.1v5.6" stroke="#222" stroke-width="1"/>
<text transform="translate(106.50 444.50) scale(0.92 1)" text-anchor="middle" font-family="Liberation Sans, sans-serif" font-size="12.5">20</text>
<path d="M135.00 424.1v5.6" stroke="#222" stroke-width="1"/>
<text transform="translate(135.00 444.50) scale(0.92 1)" text-anchor="middle" font-family="Liberation Sans, sans-serif" font-size="12.5">25</text>
<path d="M163.50 424.1v5.6" stroke="#222" stroke-width="1"/>
<text transform="translate(163.50 444.50) scale(0.92 1)" text-anchor="middle" font-family="Liberation Sans, sans-serif" font-size="12.5">30</text>
<path d="M192.00 424.1v5.6" stroke="#222" stroke-width="1"/>
<text transform="translate(192.00 444.50) scale(0.92 1)" text-anchor="middle" font-family="Liberation Sans, sans-serif" font-size="12.5">35</text>
<path d="M220.50 424.1v5.6" stroke="#222" stroke-width="1"/>
<text transform="translate(220.50 444.50) scale(0.92 1)" text-anchor="middle" font-family="Liberation Sans, sans-serif" font-size="12.5">40</text>
<path d="M249.00 424.1v5.6" stroke="#222" stroke-width="1"/>
<text transform="translate(249.00 444.50) scale(0.92 1)" text-anchor="middle" font-family="Liberation Sans, sans-serif" font-size="12.5">45</text>
<path d="M277.50 424.1v5.6" stroke="#222" stroke-width="1"/>
<text transform="translate(277.50 444.50) scale(0.92 1)" text-anchor="middle" font-family="Liberation Sans, sans-serif" font-size="12.5">50</text>
<path d="M41.4 416.70h-5.4" stroke="#222" stroke-width="1"/>
<text transform="translate(31.00 416.70) rotate(-90)" text-anchor="middle" font-family="Liberation Serif, serif" font-size="12.6" stroke="#111" stroke-width="0.12">0</text>
<path d="M41.4 378.84h-5.4" stroke="#222" stroke-width="1"/>
<text transform="translate(31.00 378.84) rotate(-90)" text-anchor="middle" font-family="Liberation Serif, serif" font-size="12.6" stroke="#111" stroke-width="0.12">2</text>
<path d="M41.4 340.98h-5.4" stroke="#222" stroke-width="1"/>
<text transform="translate(31.00 340.98) rotate(-90)" text-anchor="middle" font-family="Liberation Serif, serif" font-size="12.6" stroke="#111" stroke-width="0.12">4</text>
<path d="M41.4 303.12h-5.4" stroke="#222" stroke-width="1"/>
<text transform="translate(31.00 303.12) rotate(-90)" text-anchor="middle" font-family="Liberation Serif, serif" font-size="12.6" stroke="#111" stroke-width="0.12">6</text>
<path d="M41.4 265.26h-5.4" stroke="#222" stroke-width="1"/>
<text transform="translate(31.00 265.26) rotate(-90)" text-anchor="middle" font-family="Liberation Serif, serif" font-size="12.6" stroke="#111" stroke-width="0.12">8</text>
<path d="M286.0 416.60h5.3" stroke="#222" stroke-width="1"/>
<text transform="translate(305.60 416.60) rotate(-90) scale(0.87 1)" text-anchor="middle" font-family="Liberation Sans, sans-serif" font-size="12">0</text>
<path d="M286.0 366.10h5.3" stroke="#222" stroke-width="1"/>
<text transform="translate(305.60 366.10) rotate(-90) scale(0.87 1)" text-anchor="middle" font-family="Liberation Sans, sans-serif" font-size="12">.01</text>
<path d="M286.0 315.60h5.3" stroke="#222" stroke-width="1"/>
<text transform="translate(305.60 315.60) rotate(-90) scale(0.87 1)" text-anchor="middle" font-family="Liberation Sans, sans-serif" font-size="12">.02</text>
<path d="M286.0 265.20h5.3" stroke="#222" stroke-width="1"/>
<text transform="translate(305.60 265.20) rotate(-90) scale(0.87 1)" text-anchor="middle" font-family="Liberation Sans, sans-serif" font-size="12">.03</text>
<text x="156.8" y="251.3" text-anchor="middle" font-family="Liberation Serif, serif" font-size="16.5">Law Enforcement</text>
</g>
<text transform="translate(10.3 201.7) rotate(-90)" text-anchor="middle" font-family="Liberation Serif, serif" font-size="12" textLength="205" lengthAdjust="spacingAndGlyphs">% of sample &#39;share of female councilors&#39;</text>
</svg></body></html>
